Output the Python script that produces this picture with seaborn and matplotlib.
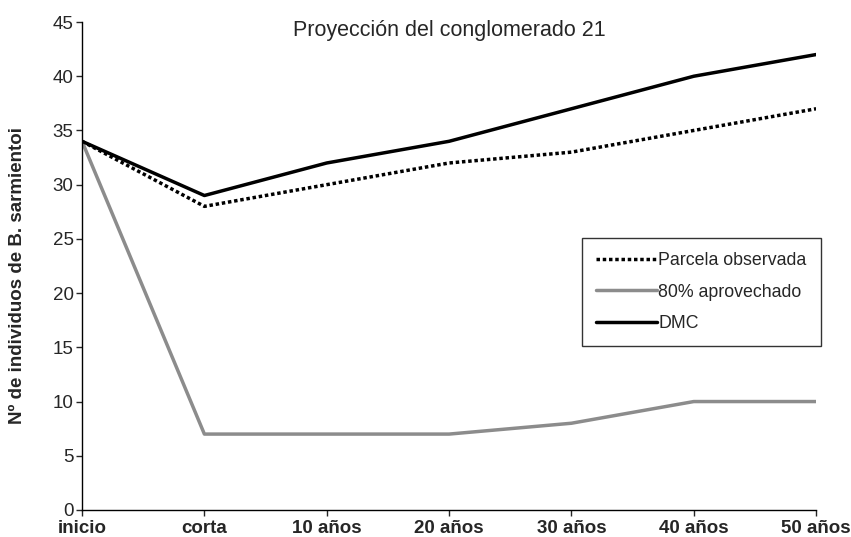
import pandas as pd
import matplotlib
matplotlib.use('Agg')
import matplotlib.pyplot as plt
import seaborn as sns

categorias = ['inicio', 'corta', '10 años', '20 años', '30 años', '40 años', '50 años']
parcela = [34, 28, 30, 32, 33, 35, 37]
aprovechado = [34, 7, 7, 7, 8, 10, 10]
dmc = [34, 29, 32, 34, 37, 40, 42]

sns.set_style('white')
plt.rcParams['font.family'] = ['Liberation Sans', 'DejaVu Sans']

df = pd.DataFrame({'pos': range(len(categorias)),
                   'Parcela observada': parcela,
                   '80% aprovechado': aprovechado,
                   'DMC': dmc})

fig = plt.figure(figsize=(8.51, 5.37), dpi=100)
ax = fig.add_axes([0.0964, 0.0503, 0.8626, 0.9087])

sns.lineplot(data=df, x='pos', y='Parcela observada', ax=ax, color='black',
             lw=2.5, linestyle=(0, (1, 0.8)), label='Parcela observada')
sns.lineplot(data=df, x='pos', y='80% aprovechado', ax=ax, color='#8c8c8c',
             lw=2.5, label='80% aprovechado')
sns.lineplot(data=df, x='pos', y='DMC', ax=ax, color='black',
             lw=2.5, label='DMC')

ax.set_xlim(0, len(categorias) - 1)
ax.set_ylim(0, 45)
ax.set_yticks(range(0, 46, 5))
ax.set_xticks(range(len(categorias)))
ax.set_xticklabels(categorias, fontweight='bold', fontsize=13.5)
ax.tick_params(axis='y', labelsize=13.5, length=4, width=1, direction='out', left=True, pad=2)
ax.tick_params(axis='x', length=4, width=1, direction='out', bottom=True, pad=3)
ax.set_xlabel('')
ax.set_ylabel('Nº de individuos de B. sarmientoi', fontweight='bold', fontsize=13.5)
ax.yaxis.set_label_coords(-0.077, 0.48)
sns.despine(ax=ax)
for s in ['left', 'bottom']:
    ax.spines[s].set_color('black')
    ax.spines[s].set_linewidth(1)

ax.text(0.5, 1.005, 'Proyección del conglomerado 21', transform=ax.transAxes,
        ha='center', va='top', fontsize=15.5)

leg = ax.legend(loc='upper left', bbox_to_anchor=(0.681, 0.557), fontsize=12.8,
                frameon=True, fancybox=False, edgecolor='black', handlelength=3.4,
                handletextpad=0.1, labelspacing=0.8, borderpad=0.8, borderaxespad=0)
leg.get_frame().set_linewidth(1)

fig.savefig('out.png', dpi=100)
